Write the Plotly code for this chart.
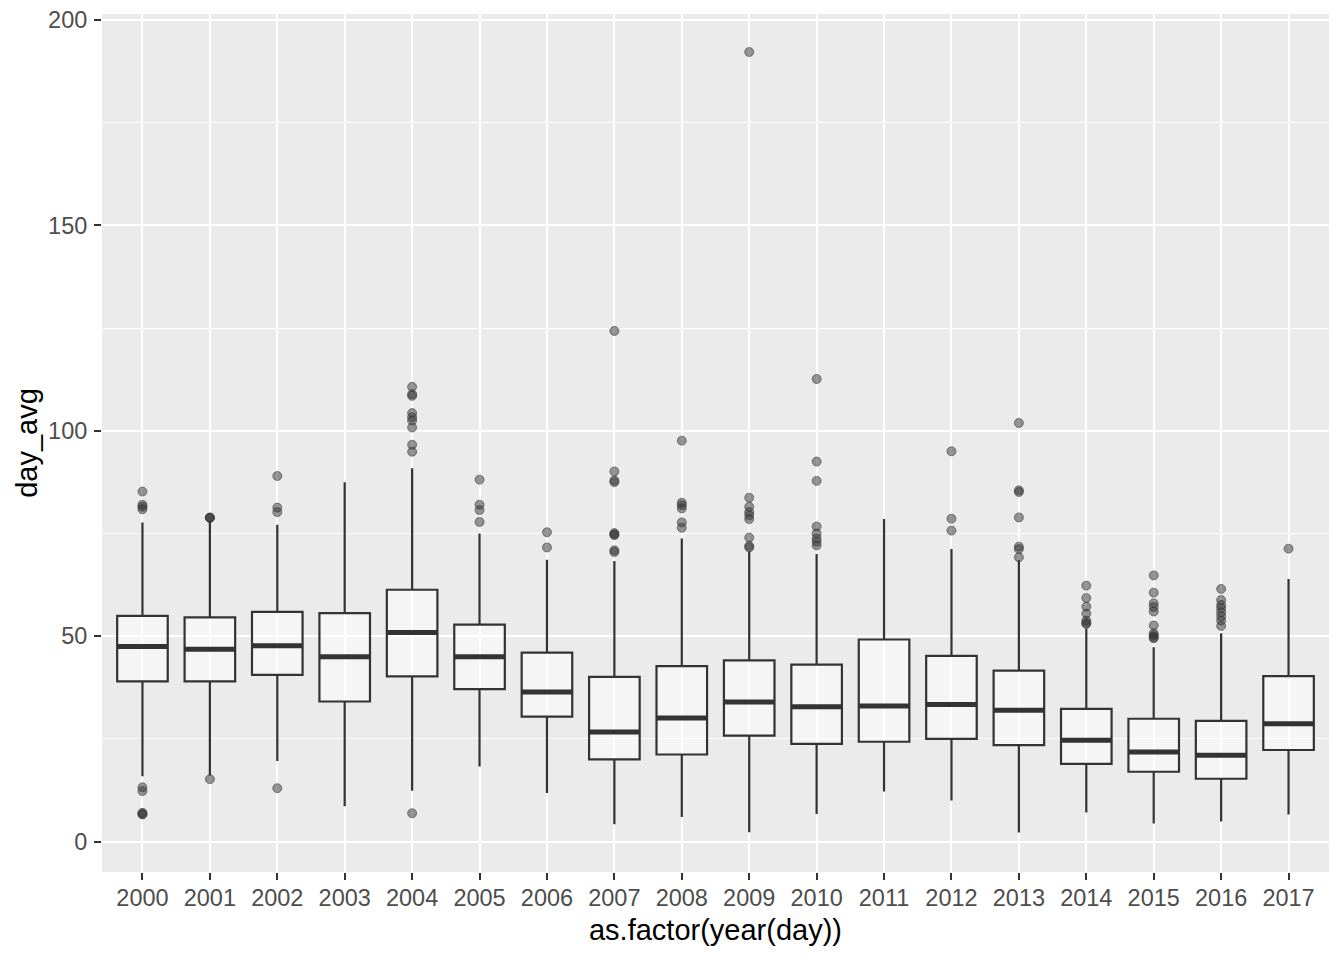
import plotly.graph_objects as go

years = [str(y) for y in range(2000, 2018)]
q1 = [39.0, 39.0, 40.6, 34.1, 40.2, 37.1, 30.4, 20.0, 21.2, 25.8, 23.8, 24.3, 25.0, 23.5, 18.9, 17.0, 15.3, 22.3]
median = [47.5, 46.8, 47.7, 45.0, 50.9, 45.0, 36.4, 26.7, 30.1, 34.0, 32.8, 33.0, 33.4, 32.0, 24.7, 21.8, 21.0, 28.7]
q3 = [54.95, 54.6, 55.9, 55.6, 61.3, 52.8, 46.0, 40.1, 42.7, 44.1, 43.1, 49.2, 45.2, 41.6, 32.3, 29.9, 29.4, 40.3]
lower_whisker = [15.9, 16.1, 19.6, 8.6, 12.4, 18.3, 11.8, 4.2, 6.0, 2.3, 6.7, 12.2, 10.0, 2.2, 7.1, 4.4, 4.9, 6.6]
upper_whisker = [77.7, 77.9, 77.1, 87.5, 90.9, 75.0, 68.6, 68.3, 73.8, 70.6, 70.0, 78.5, 71.2, 68.5, 51.9, 47.3, 50.7, 63.9]
outliers = [
    [85.2, 82.0, 81.5, 80.9, 13.2, 12.3, 7.0, 6.75, 6.6],
    [78.8, 78.8, 78.9, 15.2],
    [89.0, 81.3, 80.2, 13.0],
    [],
    [110.7, 108.9, 108.5, 104.3, 103.3, 102.5, 100.8, 96.6, 94.9, 6.9],
    [88.1, 82.0, 80.7, 77.8],
    [75.3, 71.6],
    [124.3, 90.1, 87.9, 87.5, 75.1, 74.8, 74.6, 70.9, 70.5],
    [97.6, 82.5, 81.9, 81.1, 77.7, 76.4],
    [192.2, 83.7, 81.5, 80.2, 79.4, 78.5, 74.0, 72.0, 71.6],
    [112.6, 92.5, 87.8, 76.7, 75.0, 73.8, 73.0, 72.1],
    [],
    [95.0, 78.6, 75.7],
    [101.9, 85.5, 85.1, 78.9, 71.8, 71.2, 69.2],
    [62.3, 59.3, 57.2, 55.5, 53.8, 53.2, 53.0],
    [64.8, 60.6, 58.0, 57.1, 56.0, 52.6, 50.7, 50.2, 49.8, 49.5],
    [61.5, 58.8, 57.6, 56.8, 55.8, 54.8, 53.8, 52.5],
    [71.3],
]

BOX_W = 0.75
pos = list(range(len(years)))

fig = go.Figure()
fig.add_trace(go.Box(
    x=pos, q1=q1, median=median, q3=q3,
    lowerfence=lower_whisker, upperfence=upper_whisker,
    width=BOX_W, whiskerwidth=0, boxpoints=False,
    fillcolor="rgba(255,255,255,0.5)",
    line=dict(color="#333333", width=2.2),
    showlegend=False,
))

# thick median lines (ggplot fatten)
mx, my = [], []
for i, m in zip(pos, median):
    mx += [i - BOX_W / 2, i + BOX_W / 2, None]
    my += [m, m, None]
fig.add_trace(go.Scatter(x=mx, y=my, mode="lines",
                         line=dict(color="#333333", width=5),
                         showlegend=False, hoverinfo="skip"))

ox, oy = [], []
for i, vals in zip(pos, outliers):
    for v in vals:
        ox.append(i)
        oy.append(v)
fig.add_trace(go.Scatter(x=ox, y=oy, mode="markers",
                         marker=dict(size=9, color="rgba(51,51,51,0.5)",
                                     line=dict(color="rgba(51,51,51,0.55)", width=1)),
                         showlegend=False))

fig.update_layout(
    width=1344, height=960,
    margin=dict(l=102, r=15, t=14, b=88),
    paper_bgcolor="white",
    plot_bgcolor="#EBEBEB",
    font=dict(family="Liberation Sans, Arial, sans-serif"),
    xaxis=dict(
        range=[-0.6, len(years) - 0.4],
        tickmode="array", tickvals=pos, ticktext=years,
        showgrid=True, gridcolor="white", gridwidth=2,
        zeroline=False, showline=False,
        ticks="outside", ticklen=7, tickwidth=2, tickcolor="#333333",
        tickfont=dict(size=23.5, color="#4D4D4D"),
        ticklabelstandoff=-2,
        title=dict(text="as.factor(year(day))", font=dict(size=29, color="black"), standoff=9),
        automargin=False,
    ),
    yaxis=dict(
        range=[-7.4, 201.45],
        tickmode="array", tickvals=[0, 50, 100, 150, 200],
        showgrid=True, gridcolor="white", gridwidth=2,
        minor=dict(tickmode="array", tickvals=[25, 75, 125, 175], showgrid=True,
                   gridcolor="white", gridwidth=1, ticks=""),
        zeroline=False, showline=False,
        ticks="outside", ticklen=7, tickwidth=2, tickcolor="#333333",
        tickfont=dict(size=23.5, color="#4D4D4D"),
        ticklabelstandoff=2,
        title=dict(text="day_avg", font=dict(size=29, color="black"), standoff=1),
        automargin=False,
    ),
)

fig.write_html("out.html", config={"displayModeBar": False},
               post_script="document.body.style.margin='0px';")
